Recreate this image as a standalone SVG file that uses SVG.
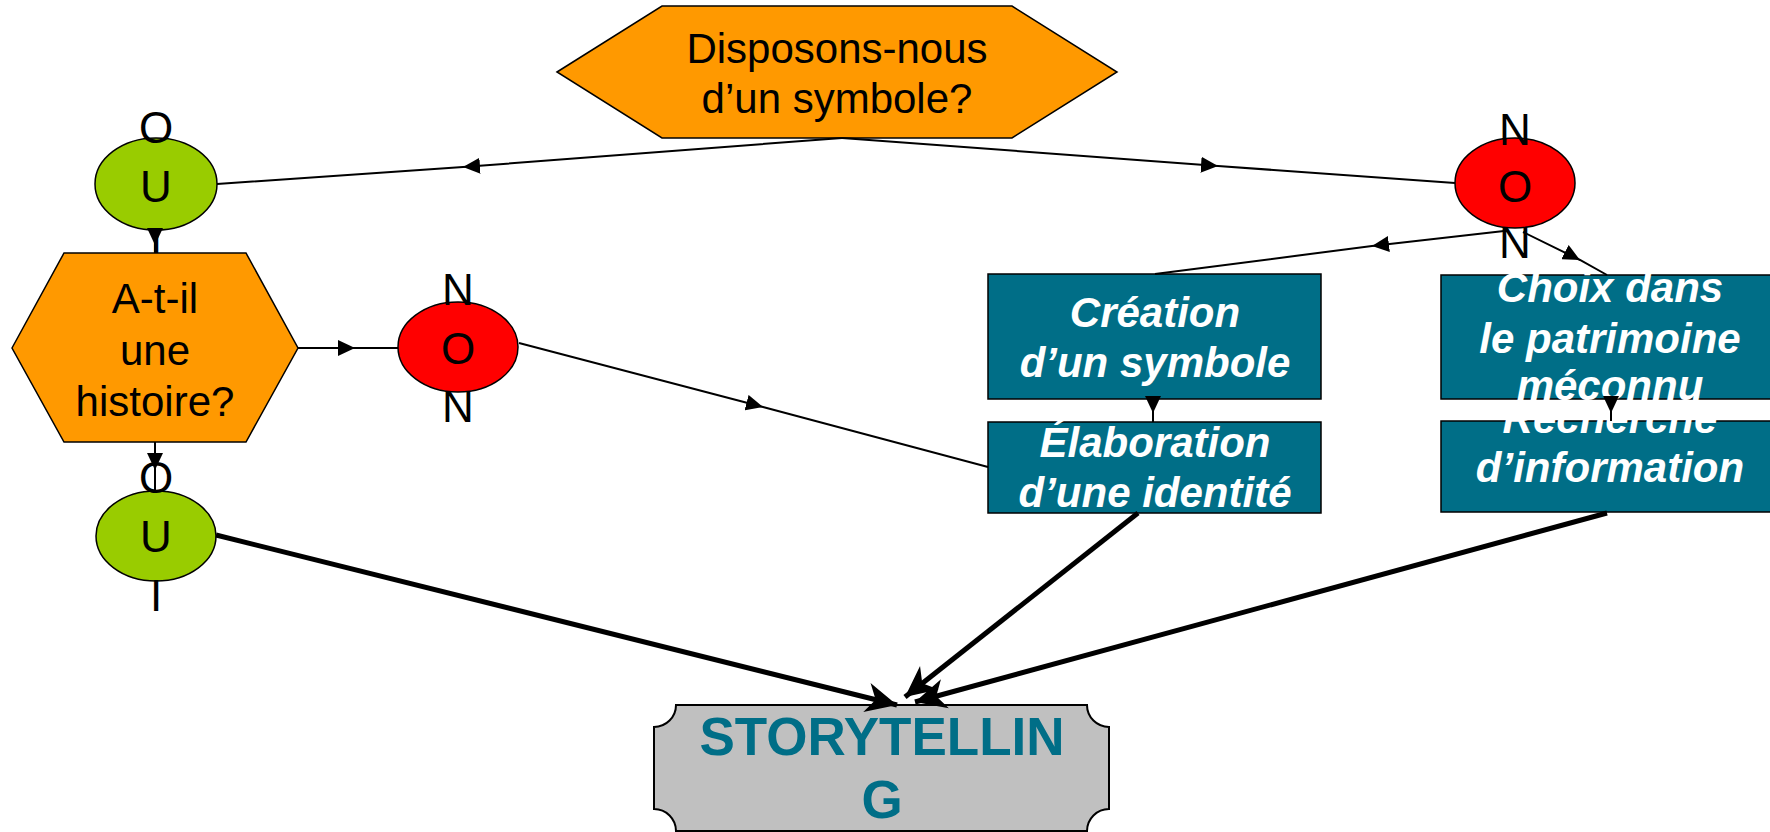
<svg xmlns="http://www.w3.org/2000/svg" width="1770" height="832" viewBox="0 0 1770 832">
<style>
.orange{fill:#FF9900;stroke:#000;stroke-width:1.5}
.green{fill:#99CC00;stroke:#000;stroke-width:1.5}
.red{fill:#FF0000;stroke:#000;stroke-width:1.5}
.teal{fill:#006E87;stroke:#000;stroke-width:1.5}
.gray{fill:#C0C0C0;stroke:#000;stroke-width:2}
.q{font-family:"Liberation Sans",Arial,sans-serif;font-size:42px;fill:#000;text-anchor:middle}
.l{font-family:"Liberation Sans",Arial,sans-serif;font-size:44px;fill:#000;text-anchor:middle}
.w{font-family:"Liberation Sans",Arial,sans-serif;font-size:42px;font-weight:bold;font-style:italic;fill:#fff;text-anchor:middle}
.s{font-family:"Liberation Sans",Arial,sans-serif;font-size:53px;font-weight:bold;fill:#006E87;text-anchor:middle}
.thin{fill:none;stroke:#000;stroke-width:2;marker-mid:url(#tri)}
.thick{fill:none;stroke:#000;stroke-width:5;marker-end:url(#stealth)}
</style>
<defs>
<marker id="tri" markerUnits="userSpaceOnUse" markerWidth="20" markerHeight="16" refX="17" refY="8" orient="auto">
<path d="M0,0 L17,8 L0,16 Z" fill="#000"/>
</marker>
<marker id="stealth" markerUnits="userSpaceOnUse" markerWidth="34" markerHeight="32" refX="31" refY="15" orient="auto" overflow="visible">
<path d="M0,0 L31,15 L0,30 L9,15 Z" fill="#000"/>
</marker>
</defs>
<rect width="1770" height="832" fill="#fff"/>

<g id="q-symbole">
<polygon class="orange" points="557,72 662,6 1012,6 1117,72 1012,138 662,138"/>
<text class="q" x="837" y="63">Disposons-nous</text>
<text class="q" x="837" y="113">d’un symbole?</text>
</g>

<g id="oui-1">
<ellipse class="green" cx="156" cy="184" rx="61" ry="46"/>
<text class="l" x="156" y="143">O</text>
<text class="l" x="156" y="202">U</text>
<text class="l" x="156" y="261">I</text>
</g>

<g id="non-1">
<ellipse class="red" cx="1515" cy="183" rx="60" ry="45"/>
<text class="l" x="1515" y="145">N</text>
<text class="l" x="1515" y="202">O</text>
<text class="l" x="1515" y="258">N</text>
</g>

<g id="q-histoire">
<polygon class="orange" points="12,348 64,253 246,253 298,348 246,442 64,442"/>
<text class="q" x="155" y="313">A-t-il</text>
<text class="q" x="155" y="365">une</text>
<text class="q" x="155" y="416">histoire?</text>
</g>

<g id="non-2">
<ellipse class="red" cx="458" cy="347" rx="60" ry="45"/>
<text class="l" x="458" y="305">N</text>
<text class="l" x="458" y="364">O</text>
<text class="l" x="458" y="422">N</text>
</g>

<g id="oui-2">
<ellipse class="green" cx="156" cy="536" rx="60" ry="45"/>
<text class="l" x="156" y="493">O</text>
<text class="l" x="156" y="552">U</text>
<text class="l" x="156" y="611">I</text>
</g>

<g id="creation">
<rect class="teal" x="988" y="274" width="333" height="125"/>
<text class="w" x="1155" y="327">Création</text>
<text class="w" x="1155" y="377">d’un symbole</text>
</g>

<g id="elaboration">
<rect class="teal" x="988" y="422" width="333" height="91"/>
<text class="w" x="1155" y="457">Élaboration</text>
<text class="w" x="1155" y="507">d’une identité</text>
</g>

<g id="choix">
<rect class="teal" x="1441" y="275" width="340" height="124"/>
<text class="w" x="1610" y="302">Choix dans</text>
<text class="w" x="1610" y="353">le patrimoine</text>
<text class="w" x="1610" y="400">méconnu</text>
</g>

<g id="recherche">
<rect class="teal" x="1441" y="421" width="340" height="91"/>
<text class="w" x="1610" y="433">Recherche</text>
<text class="w" x="1610" y="482">d’information</text>
</g>

<g id="storytelling">
<path class="gray" d="M676,705 L1087,705 A22,22 0 0 0 1109,727 L1109,809 A22,22 0 0 0 1087,831 L676,831 A22,22 0 0 0 654,809 L654,727 A22,22 0 0 0 676,705 Z"/>
<text class="s" x="882" y="755">STORYTELLIN</text>
<text class="s" x="882" y="818">G</text>
</g>

<g id="connectors">
<path class="thin" d="M842,138 L463,167 L217,184"/>
<path class="thin" d="M842,138 L1218,166 L1455,183"/>
<path class="thin" d="M155,230 L155,245 L155,253"/>
<path class="thin" d="M298,348 L355,348 L398,348"/>
<path class="thin" d="M519,343 L763,407 L988,467"/>
<path class="thin" d="M155,442 L155,470 L155,491"/>
<path class="thin" d="M1504,231 L1372,246 L1155,274"/>
<path class="thin" d="M1523,232 L1580,260 L1607,275"/>
<path class="thin" d="M1153,399 L1153,413 L1153,422"/>
<path class="thin" d="M1611,399 L1611,413 L1611,421"/>
<path class="thick" d="M216,535 L897,705"/>
<path class="thick" d="M1138,513 L905,697"/>
<path class="thick" d="M1607,513 L915,702"/>
</g>
</svg>
